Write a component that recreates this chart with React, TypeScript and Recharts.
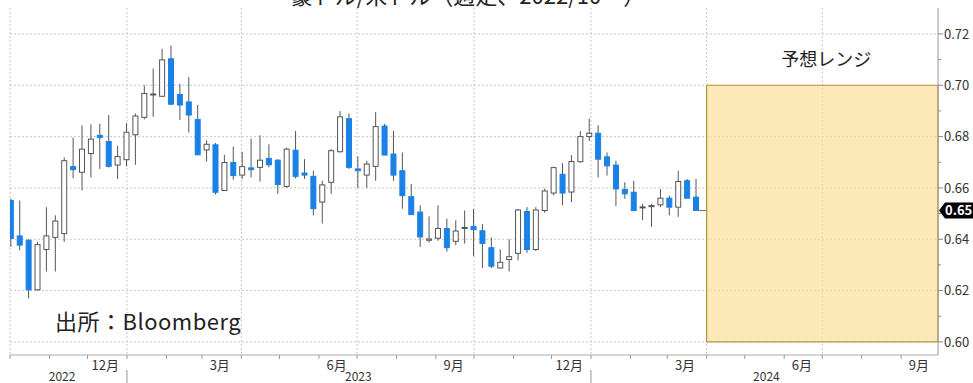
import React from "react";
import {
  BarChart, Bar, XAxis, YAxis, CartesianGrid,
  ReferenceArea, ReferenceLine,
} from "recharts";

const FONT = "'Noto Sans CJK JP', 'Noto Sans', sans-serif";
const DAY = 86400000;

// 週足 (2022/10 ~ 2024/3)、各週の日付
const FIRST_WEEK = Date.UTC(2022, 9, 2);

const open = [
  0.6551, 0.6413, 0.6396, 0.6203, 0.6360, 0.6407, 0.6422, 0.6683, 0.6661, 0.6734,
  0.6805, 0.6781, 0.6689, 0.6710, 0.6807, 0.6875, 0.6962, 0.6957, 0.7103, 0.6964,
  0.6935, 0.6867, 0.6748, 0.6768, 0.6590, 0.6699, 0.6650, 0.6678, 0.6680, 0.6715,
  0.6708, 0.6606, 0.6747, 0.6658, 0.6645, 0.6545, 0.6622, 0.6741, 0.6870, 0.6674,
  0.6650, 0.6684, 0.6841, 0.6732, 0.6667, 0.6566, 0.6506, 0.6396, 0.6404, 0.6442,
  0.6392, 0.6444, 0.6450, 0.6433, 0.6367, 0.6288, 0.6321, 0.6345, 0.6508, 0.6360,
  0.6512, 0.6580, 0.6653, 0.6584, 0.6702, 0.6800, 0.6813, 0.6721, 0.6689, 0.6594,
  0.6583, 0.6524, 0.6527, 0.6534, 0.6560, 0.6525, 0.6628, 0.6564,
];
const high = [
  0.6558, 0.6551, 0.6400, 0.6390, 0.6525, 0.6493, 0.6719, 0.6796, 0.6844, 0.6848,
  0.6850, 0.6884, 0.6764, 0.6852, 0.6890, 0.7000, 0.7065, 0.7142, 0.7155, 0.7006,
  0.7032, 0.6923, 0.6785, 0.6775, 0.6729, 0.6761, 0.6741, 0.6792, 0.6805, 0.6770,
  0.6712, 0.6757, 0.6822, 0.6712, 0.6667, 0.6628, 0.6751, 0.6899, 0.6890, 0.6723,
  0.6706, 0.6895, 0.6850, 0.6822, 0.6738, 0.6615, 0.6532, 0.6489, 0.6532, 0.6480,
  0.6474, 0.6512, 0.6518, 0.6459, 0.6407, 0.6361, 0.6400, 0.6518, 0.6525, 0.6525,
  0.6598, 0.6683, 0.6696, 0.6728, 0.6822, 0.6870, 0.6844, 0.6738, 0.6706, 0.6622,
  0.6628, 0.6538, 0.6538, 0.6596, 0.6570, 0.6667, 0.6635, 0.6635,
];
const low = [
  0.6370, 0.6357, 0.6170, 0.6200, 0.6274, 0.6274, 0.6390, 0.6637, 0.6590, 0.6641,
  0.6674, 0.6680, 0.6635, 0.6684, 0.6690, 0.6867, 0.6877, 0.6955, 0.6926, 0.6865,
  0.6816, 0.6729, 0.6703, 0.6574, 0.6588, 0.6632, 0.6635, 0.6641, 0.6625, 0.6680,
  0.6577, 0.6600, 0.6637, 0.6635, 0.6493, 0.6461, 0.6577, 0.6738, 0.6674, 0.6600,
  0.6600, 0.6628, 0.6728, 0.6628, 0.6519, 0.6496, 0.6370, 0.6387, 0.6394, 0.6352,
  0.6377, 0.6383, 0.6334, 0.6288, 0.6288, 0.6286, 0.6275, 0.6318, 0.6347, 0.6354,
  0.6503, 0.6571, 0.6532, 0.6545, 0.6698, 0.6783, 0.6641, 0.6648, 0.6529, 0.6558,
  0.6512, 0.6474, 0.6448, 0.6525, 0.6493, 0.6487, 0.6560, 0.6512,
];
const close = [
  0.6403, 0.6377, 0.6203, 0.6379, 0.6413, 0.6471, 0.6706, 0.6671, 0.6751, 0.6790,
  0.6796, 0.6684, 0.6722, 0.6817, 0.6880, 0.6968, 0.6966, 0.7099, 0.6926, 0.6923,
  0.6884, 0.6729, 0.6770, 0.6583, 0.6699, 0.6648, 0.6683, 0.6671, 0.6708, 0.6690,
  0.6613, 0.6751, 0.6645, 0.6650, 0.6519, 0.6612, 0.6745, 0.6877, 0.6680, 0.6667,
  0.6693, 0.6839, 0.6728, 0.6650, 0.6570, 0.6496, 0.6409, 0.6401, 0.6442, 0.6367,
  0.6432, 0.6446, 0.6437, 0.6384, 0.6295, 0.6310, 0.6332, 0.6514, 0.6360, 0.6514,
  0.6588, 0.6679, 0.6580, 0.6703, 0.6800, 0.6813, 0.6712, 0.6686, 0.6596, 0.6577,
  0.6512, 0.6526, 0.6531, 0.6560, 0.6525, 0.6625, 0.6560, 0.6512,
];

const data = close.map((c, i) => ({
  t: FIRST_WEEK + i * 7 * DAY,
  open: open[i], high: high[i], low: low[i], close: c,
}));
const LAST = close[close.length - 1];
const LAST_T = data[data.length - 1].t;

// 軸
const X_MIN = Date.UTC(2022, 9, 1);
const X_MAX = Date.UTC(2024, 8, 30);
const FORECAST_FROM = Date.UTC(2024, 3, 1);
const RANGE_LOW = 0.60;
const RANGE_HIGH = 0.70;

const monthStarts: number[] = [];
for (let k = 0; k < 24; k++) monthStarts.push(Date.UTC(2022, 9 + k, 1));
const quarterStarts = monthStarts.filter(t => new Date(t).getUTCMonth() % 3 === 0);

const monthLabels = [
  { t: Date.UTC(2022, 11, 15), label: "12月" },
  { t: Date.UTC(2023, 2, 15), label: "3月" },
  { t: Date.UTC(2023, 5, 15), label: "6月" },
  { t: Date.UTC(2023, 8, 15), label: "9月" },
  { t: Date.UTC(2023, 11, 15), label: "12月" },
  { t: Date.UTC(2024, 2, 15), label: "3月" },
  { t: Date.UTC(2024, 5, 15), label: "6月" },
  { t: Date.UTC(2024, 8, 15), label: "9月" },
];
const yearLabels = [
  { t: Date.UTC(2022, 10, 11), label: "2022" },
  { t: Date.UTC(2023, 6, 2), label: "2023" },
  { t: Date.UTC(2024, 4, 18), label: "2024" },
];
const X_TICKS = [...monthStarts, ...monthLabels.map(m => m.t), ...yearLabels.map(y => y.t)]
  .sort((a, b) => a - b);

const Y_GRID = [0.60, 0.62, 0.64, 0.66, 0.68, 0.70, 0.72];
const Y_TICKS = [0.60, 0.61, 0.62, 0.63, 0.64, 0.65, 0.66, 0.67, 0.68, 0.69, 0.70, 0.71, 0.72, LAST];

const UP_STROKE = "#555";
const DOWN = "#1a82e6";

// ── ローソク足 ──────────────────────────────
function Candle(p: any) {
  const { x, y, width, height, payload } = p;
  if (x == null || y == null) return null;
  const span = payload.high - payload.low;
  const k = span > 0 ? height / span : 0;
  const py = (v: number) => y + (payload.high - v) * k;
  const up = payload.close >= payload.open;
  const top = py(Math.max(payload.open, payload.close));
  const bot = py(Math.min(payload.open, payload.close));
  const cx = x + width / 2;
  return (
    <g>
      <line x1={cx} x2={cx} y1={y} y2={y + height} stroke="#555" strokeWidth={1} />
      <rect
        x={x + 0.5} y={top} width={width - 1} height={Math.max(1, bot - top)}
        fill={up ? "#fff" : DOWN} stroke={up ? UP_STROKE : DOWN} strokeWidth={1}
      />
    </g>
  );
}

function XTick(p: any) {
  const { x, y, payload } = p;
  const v = payload.value;
  const m = monthLabels.find(o => o.t === v);
  if (m) {
    return (
      <text x={x} y={y + 11} textAnchor="middle" dominantBaseline="middle"
        fontSize={13} fill="#333" fontFamily={FONT}>{m.label}</text>
    );
  }
  const yr = yearLabels.find(o => o.t === v);
  if (yr) {
    return (
      <text x={x} y={y + 26} textAnchor="middle" fontSize={12} fill="#333" fontFamily={FONT}>
        {yr.label}
      </text>
    );
  }
  const isJan = new Date(v).getUTCMonth() === 0;
  return (
    <g>
      <line x1={x} x2={x} y1={y} y2={y + 4} stroke="#999" />
      {isJan && <line x1={x} x2={x} y1={y + 15} y2={y + 28} stroke="#999" />}
    </g>
  );
}

function YTick(p: any) {
  const { x, y, payload } = p;
  const v = payload.value;
  if (v === LAST) {
    return (
      <g>
        <path d={`M${x + 1},${y} L${x + 7},${y - 8} L${x + 36},${y - 8} L${x + 36},${y + 8} L${x + 7},${y + 8} Z`} fill="#000" />
        <text x={x + 7} y={y} dy="0.36em" fill="#fff" fontSize={13} fontWeight={700} fontFamily={FONT}>
          {LAST.toFixed(2)}
        </text>
      </g>
    );
  }
  const major = Math.round(v * 100) % 2 === 0;
  return (
    <g>
      <line x1={x} x2={x + (major ? 5 : 3)} y1={y} y2={y} stroke="#888" />
      {major && (
        <text x={x + 6} y={y} dy="0.36em" fontSize={13} fill="#333" fontFamily={FONT}>
          {v.toFixed(2)}
        </text>
      )}
    </g>
  );
}

export default function App() {
  return (
    <div style={{
      position: "absolute", left: 0, top: 0, width: 973, height: 383,
      overflow: "hidden", background: "#fff", fontFamily: FONT,
    }}>
      <BarChart width={973} height={383} data={data} margin={{ top: 8, right: 0, bottom: 0, left: 10 }}>
        <CartesianGrid
          horizontalValues={Y_GRID}
          verticalValues={quarterStarts}
          stroke="#c8c8c8" strokeDasharray="2 2"
        />
        <XAxis
          dataKey="t" type="number" domain={[X_MIN, X_MAX]} allowDataOverflow
          ticks={X_TICKS} interval={0} tick={<XTick />}
          tickSize={0} tickMargin={0} tickLine={false}
          axisLine={{ stroke: "#aaa" }} height={28}
        />
        <YAxis
          orientation="right" type="number" domain={[0.5949, 0.7301]} allowDataOverflow
          ticks={Y_TICKS} interval={0} tick={<YTick />}
          tickSize={0} tickMargin={0} tickLine={false}
          axisLine={{ stroke: "#999" }} width={35}
        />
        <ReferenceArea
          x1={FORECAST_FROM} x2={X_MAX} y1={RANGE_LOW} y2={RANGE_HIGH}
          fill="#fcdf98" fillOpacity={0.7} stroke="#b8963c" strokeWidth={1.2}
          label={{ value: "予想レンジ", position: "top", offset: 19, dx: 4, fontSize: 18, fill: "#222", fontFamily: FONT }}
        />
        <ReferenceLine
          segment={[{ x: LAST_T, y: LAST }, { x: FORECAST_FROM, y: LAST }]}
          stroke="#777"
        />
        <Bar
          dataKey={(d: any) => [d.low, d.high]}
          barSize={6}
          shape={(p: any) => <Candle {...p} />}
          isAnimationActive={false}
        />
      </BarChart>
      <div style={{
        position: "absolute", left: 468, top: -17, transform: "translateX(-50%)",
        fontSize: 22, lineHeight: "22px", whiteSpace: "nowrap", color: "#222",
      }}>
        豪ドル/米ドル（週足、2022/10～）
      </div>
      <div style={{
        position: "absolute", left: 55, top: 308,
        fontSize: 22, lineHeight: "24px", whiteSpace: "nowrap", color: "#222",
        letterSpacing: 0.5,
      }}>
        出所：Bloomberg
      </div>
    </div>
  );
}
